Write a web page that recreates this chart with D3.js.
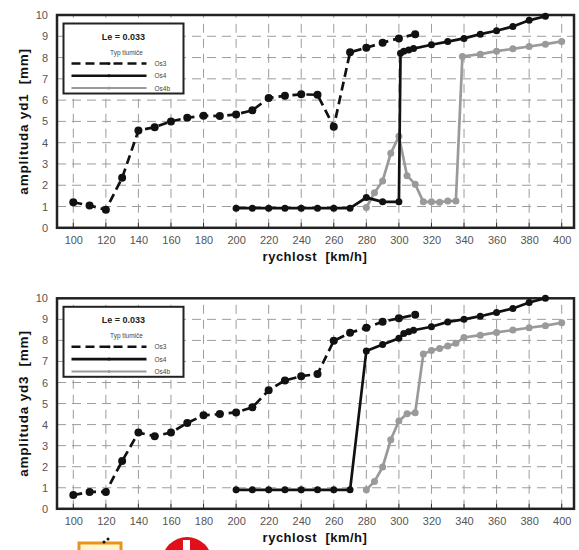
<!DOCTYPE html>
<html><head><meta charset="utf-8">
<script src="https://cdn.jsdelivr.net/npm/d3@7"></script>
<style>body{margin:0;background:#fff;}svg{display:block;font-family:"Liberation Sans",Arial,sans-serif;}text.t{white-space:pre;}</style>
</head><body>
<svg id="c" width="579" height="550"></svg>
<script>
const xTicks = [100,120,140,160,180,200,220,240,260,280,300,320,340,360,380,400];
const yTicks = [0,1,2,3,4,5,6,7,8,9,10];
const seriesNames = ["Os3","Os4","Os4b"];
const legendTitle = "Le = 0.033";
const legendSub = "Typ tlumiče";
const xTitle = "rychlost  [km/h]";
const yTitles = ["amplituda yd1  [mm]","amplituda yd3  [mm]"];

// top chart (yd1)
const top_Os3_x = [100,110,120,130,140,150,160,170,180,190,200,210,220,230,240,250,260,270,280,290,300,310];
const top_Os3_y = [1.2,1.05,0.85,2.35,4.57,4.73,5.0,5.17,5.27,5.25,5.33,5.52,6.1,6.2,6.27,6.25,4.75,8.25,8.46,8.7,8.9,9.1];
const top_Os4_x = [200,210,220,230,240,250,260,270,280,290,300,301,303,306,309,320,330,340,350,360,370,380,390];
const top_Os4_y = [0.92,0.92,0.92,0.92,0.92,0.92,0.92,0.92,1.42,1.22,1.22,8.2,8.3,8.36,8.42,8.6,8.75,8.9,9.1,9.26,9.46,9.75,9.94];
const top_Os4b_x = [280,285,290,295,300,305,310,315,320,325,330,335,339,350,360,370,380,390,400];
const top_Os4b_y = [0.95,1.65,2.2,3.5,4.3,2.45,2.05,1.22,1.22,1.2,1.26,1.26,8.05,8.16,8.3,8.41,8.52,8.63,8.76];

// bottom chart (yd3)
const bot_Os3_x = [100,110,120,130,140,150,160,170,180,190,200,210,220,230,240,250,260,270,280,290,300,310];
const bot_Os3_y = [0.65,0.8,0.8,2.27,3.62,3.45,3.62,4.08,4.44,4.5,4.58,4.82,5.63,6.1,6.3,6.4,7.98,8.36,8.6,8.89,9.05,9.22];
const bot_Os4_x = [200,210,220,230,240,250,260,270,280,290,300,303,306,309,320,330,340,350,360,370,380,390];
const bot_Os4_y = [0.9,0.9,0.9,0.9,0.9,0.9,0.9,0.9,7.5,7.8,8.1,8.33,8.41,8.48,8.65,8.88,9.0,9.15,9.33,9.52,9.8,10.0];
const bot_Os4b_x = [280,285,290,295,300,305,310,315,320,325,330,335,340,350,360,370,380,390,400];
const bot_Os4b_y = [0.9,1.3,1.98,3.28,4.17,4.52,4.56,7.35,7.52,7.62,7.73,7.86,8.14,8.25,8.38,8.49,8.6,8.7,8.84];

const svg = d3.select("#c");
const styles = {
  Os3: {color:"#111", dash:"9,5", r:4},
  Os4: {color:"#111", dash:null, r:3.5},
  Os4b:{color:"#9a9a9a", dash:null, r:3.5}
};

function drawChart(cfg){
  const g = svg.append("g");
  const x = d3.scaleLinear().domain([100,400]).range([73.3,561.7]);
  const y = d3.scaleLinear().domain([0,10]).range([cfg.y0, cfg.y10]);
  const left = 57, right = 574;

  // grid
  g.append("g").selectAll("line").data(xTicks).join("line")
    .attr("x1",d=>x(d)).attr("x2",d=>x(d)).attr("y1",y(0)).attr("y2",y(10))
    .attr("stroke","#9c9c9c").attr("stroke-width",1).attr("stroke-dasharray","9,6");
  g.append("g").selectAll("line").data(yTicks.filter(d=>d>0&&d<10)).join("line")
    .attr("x1",left).attr("x2",right).attr("y1",d=>y(d)).attr("y2",d=>y(d))
    .attr("stroke","#9c9c9c").attr("stroke-width",1).attr("stroke-dasharray","9,6");

  // axes via d3
  const xAxis = d3.axisBottom(x).tickValues(xTicks).tickSize(0).tickPadding(8);
  const xa = g.append("g").attr("transform",`translate(0,${y(0)})`).call(xAxis);
  xa.select(".domain").remove();
  xa.selectAll("text").attr("font-size",11).attr("fill","#555").attr("font-family","Liberation Sans, Arial, sans-serif");
  const yAxis = d3.axisLeft(y).tickValues(yTicks).tickSize(0).tickPadding(9);
  const ya = g.append("g").attr("transform",`translate(${left},0)`).call(yAxis);
  ya.select(".domain").remove();
  ya.selectAll("text").attr("font-size",11).attr("fill","#555").attr("font-family","Liberation Sans, Arial, sans-serif");

  // inner ticks
  g.append("g").selectAll("line").data(xTicks).join("line")
    .attr("x1",d=>x(d)).attr("x2",d=>x(d)).attr("y1",y(0)).attr("y2",y(0)-5)
    .attr("stroke","#333").attr("stroke-width",1);

  // frame
  g.append("rect").attr("x",left).attr("y",y(10)).attr("width",right-left).attr("height",y(0)-y(10))
    .attr("fill","none").attr("stroke","#222").attr("stroke-width",2.5);

  // series
  const line = d3.line().x(d=>x(d[0])).y(d=>y(d[1]));
  cfg.series.forEach(s=>{
    const st = styles[s.name];
    const pts = s.x.map((v,i)=>[v,s.y[i]]);
    g.append("path").datum(pts).attr("d",line).attr("fill","none")
      .attr("stroke",st.color).attr("stroke-width",2.7)
      .attr("stroke-dasharray",st.dash);
    g.append("g").selectAll("circle").data(pts).join("circle")
      .attr("cx",d=>x(d[0])).attr("cy",d=>y(d[1])).attr("r",st.r).attr("fill",st.color);
  });

  // legend
  const lx = 63.5, ly = y(10)+8.5, lw = 120, lh = 70;
  const lg = g.append("g");
  lg.append("rect").attr("x",lx).attr("y",ly).attr("width",lw).attr("height",lh)
    .attr("fill","#fff").attr("stroke","#222").attr("stroke-width",2);
  lg.append("text").attr("x",lx+60).attr("y",ly+16).attr("text-anchor","middle")
    .attr("font-size",9).attr("font-weight","bold").attr("fill","#222").text(legendTitle);
  lg.append("text").attr("x",lx+63).attr("y",ly+31).attr("text-anchor","middle")
    .attr("font-size",6.5).attr("fill","#444").text(legendSub);
  seriesNames.forEach((n,i)=>{
    const st = styles[n];
    const yy = ly + 40 + i*12.3;
    lg.append("line").attr("x1",lx+8).attr("x2",lx+83).attr("y1",yy).attr("y2",yy)
      .attr("stroke",st.color).attr("stroke-width",n==="Os4b"?2:2.6).attr("stroke-dasharray",st.dash);
    lg.append("circle").attr("cx",lx+45.5).attr("cy",yy).attr("r",1.5).attr("fill",st.color);
    lg.append("text").attr("x",lx+91).attr("y",yy+2.5).attr("font-size",6.5).attr("fill","#444").text(n);
  });

  // titles
  g.append("text").attr("class","t").attr("x",315).attr("y",y(0)+33).attr("text-anchor","middle")
    .attr("font-size",13).attr("letter-spacing",0.5).attr("font-weight","bold").attr("fill","#111").text(xTitle);
  g.append("text").attr("class","t").attr("transform",`translate(28,${(y(0)+y(10))/2}) rotate(-90)`)
    .attr("text-anchor","middle").attr("font-size",13.5).attr("letter-spacing",0.8)
    .attr("font-weight","bold").attr("fill","#111").text(cfg.yTitle);
}

drawChart({y0:227.8, y10:15, yTitle:yTitles[0], series:[
  {name:"Os3", x:top_Os3_x, y:top_Os3_y},
  {name:"Os4b", x:top_Os4b_x, y:top_Os4b_y},
  {name:"Os4", x:top_Os4_x, y:top_Os4_y}
]});
drawChart({y0:508.8, y10:298.3, yTitle:yTitles[1], series:[
  {name:"Os3", x:bot_Os3_x, y:bot_Os3_y},
  {name:"Os4b", x:bot_Os4b_x, y:bot_Os4b_y},
  {name:"Os4", x:bot_Os4_x, y:bot_Os4_y}
]});

// partial logos at bottom edge
svg.append("rect").attr("x",79).attr("y",543).attr("width",42).attr("height",12)
  .attr("fill","#fff6d0").attr("stroke","#e8941a").attr("stroke-width",3);
svg.append("circle").attr("cx",104).attr("cy",542).attr("r",1.5).attr("fill","#111");
svg.append("circle").attr("cx",108).attr("cy",539).attr("r",1.5).attr("fill","#111");
svg.append("circle").attr("cx",187).attr("cy",562).attr("r",25).attr("fill","#e0101a");
svg.append("rect").attr("x",183).attr("y",540).attr("width",7).attr("height",12).attr("fill","#fff");
</script>
</body></html>
